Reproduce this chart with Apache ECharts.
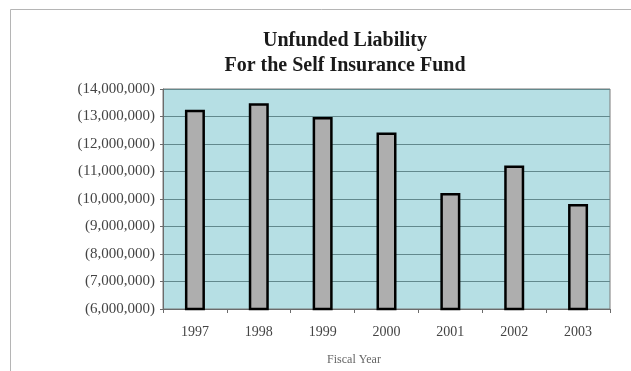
<!DOCTYPE html>
<html>
<head>
<meta charset="utf-8">
<script src="https://cdn.jsdelivr.net/npm/echarts@6/dist/echarts.min.js"></script>
<style>
  html, body { margin: 0; padding: 0; background: #ffffff; }
  #chart { width: 631px; height: 371px; }
</style>
</head>
<body>
<div id="chart"></div>
<script>
// Fiscal years and unfunded liability (dollars) of the Self Insurance Fund
const years = ['1997', '1998', '1999', '2000', '2001', '2002', '2003'];
const liability = [13250000, 13480000, 12980000, 12420000, 10220000, 11220000, 9820000];

// Value axis settings
const axisMin = 6000000;
const axisMax = 14000000;
const axisStep = 1000000;

const serif = '"Liberation Serif", "Times New Roman", serif';

const chart = echarts.init(document.getElementById('chart'), null, { renderer: 'canvas' });

chart.setOption({
  animation: false,
  backgroundColor: '#ffffff',
  title: {
    text: 'Unfunded Liability\nFor the Self Insurance Fund',
    left: 340,
    top: 23,
    textAlign: 'center',
    textStyle: {
      fontFamily: serif,
      fontWeight: 'bold',
      fontSize: 20,
      lineHeight: 25,
      color: '#1a1a1a'
    }
  },
  graphic: [
    {
      type: 'rect',
      shape: { x: 10.5, y: 9.5, width: 700, height: 400 },
      style: { fill: 'none', stroke: '#b5b5b5', lineWidth: 1 },
      silent: true,
      z: -1
    },
    {
      type: 'text',
      x: 354,
      y: 360,
      style: {
        text: 'Fiscal Year',
        fontFamily: serif,
        fontSize: 12,
        fill: '#666666',
        align: 'center',
        verticalAlign: 'middle'
      }
    }
  ],
  grid: {
    left: 163,
    right: 21,
    top: 89,
    bottom: 62,
    show: true,
    backgroundColor: '#b6dfe4',
    borderColor: '#7a7a7a',
    borderWidth: 1
  },
  xAxis: {
    type: 'category',
    data: years,
    axisLine: { show: true, lineStyle: { color: '#6b6b6b', width: 1 } },
    axisTick: { show: true, length: 4, lineStyle: { color: '#6b6b6b' } },
    axisLabel: {
      margin: 16,
      fontFamily: serif,
      fontSize: 14,
      color: '#444444'
    }
  },
  yAxis: {
    type: 'value',
    min: axisMin,
    max: axisMax,
    interval: axisStep,
    axisLine: { show: true, lineStyle: { color: '#6b6b6b', width: 1 } },
    axisTick: { show: true, length: 3, lineStyle: { color: '#6b6b6b' } },
    axisLabel: {
      margin: 8,
      fontFamily: serif,
      fontSize: 15,
      color: '#444444',
      formatter: v => '(' + v.toLocaleString('en-US') + ')'
    },
    splitLine: { show: true, lineStyle: { color: '#62898d', width: 1 } }
  },
  series: [
    {
      type: 'bar',
      data: liability,
      barWidth: 20,
      itemStyle: {
        color: '#aeaeae',
        borderColor: '#000000',
        borderWidth: 2.5
      }
    }
  ]
});
</script>
</body>
</html>
